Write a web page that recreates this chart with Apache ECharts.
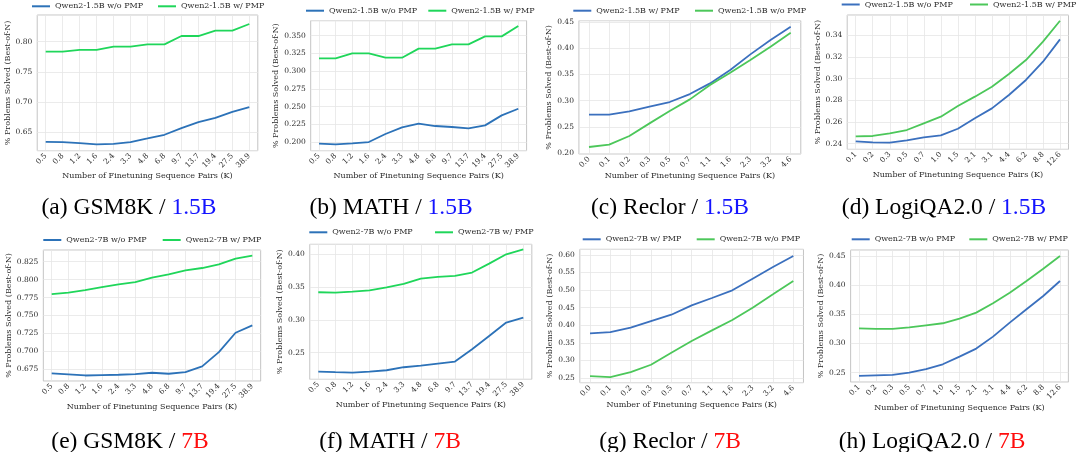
<!DOCTYPE html>
<html>
<head>
<meta charset="utf-8">
<script src="https://cdn.jsdelivr.net/npm/echarts@6/dist/echarts.min.js"></script>
<style>
  html, body { margin: 0; padding: 0; background: #fff; }
  #chart { width: 1080px; height: 452px; }
</style>
</head>
<body>
<div id="chart"></div>
<script>
// x categories: number of finetuning sequence pairs (K)
const pairsGsm = ["0.5", "0.8", "1.2", "1.6", "2.4", "3.3", "4.8", "6.8", "9.7", "13.7", "19.4", "27.5", "38.9"];
const pairsMath = ["0.5", "0.8", "1.2", "1.6", "2.4", "3.3", "4.8", "6.8", "9.7", "13.7", "19.4", "27.5", "38.9"];
const pairsReclor = ["0.0", "0.1", "0.2", "0.3", "0.5", "0.7", "1.1", "1.6", "2.3", "3.2", "4.6"];
const pairsLogi = ["0.1", "0.2", "0.3", "0.5", "0.7", "1.0", "1.5", "2.1", "3.1", "4.4", "6.2", "8.8", "12.6"];

// 1.5B
const gsm15Without = [0.6347, 0.6342, 0.6325, 0.6303, 0.6314, 0.6342, 0.6402, 0.6463, 0.6573, 0.6671, 0.6743, 0.6842, 0.6918];
const gsm15With = [0.7835, 0.7835, 0.7863, 0.7863, 0.7918, 0.7918, 0.7956, 0.7956, 0.8093, 0.8093, 0.8181, 0.8181, 0.8291];
const math15Without = [0.1977, 0.1968, 0.1982, 0.2000, 0.2113, 0.2207, 0.2259, 0.2226, 0.2212, 0.2193, 0.2235, 0.2376, 0.2470];
const math15With = [0.3180, 0.3180, 0.3250, 0.3250, 0.3189, 0.3189, 0.3317, 0.3317, 0.3378, 0.3378, 0.3490, 0.3490, 0.3636];
const reclor15With = [0.2734, 0.2734, 0.2797, 0.2886, 0.2975, 0.3126, 0.3329, 0.3582, 0.3880, 0.4152, 0.4405];
const reclor15Without = [0.2120, 0.2164, 0.2329, 0.2569, 0.2804, 0.3025, 0.3297, 0.3532, 0.3772, 0.4025, 0.4291];
const logi15Without = [0.2422, 0.2412, 0.2409, 0.2430, 0.2458, 0.2477, 0.2538, 0.2634, 0.2726, 0.2849, 0.2988, 0.3157, 0.3363];
const logi15With = [0.2468, 0.2471, 0.2495, 0.2526, 0.2588, 0.2649, 0.2748, 0.2834, 0.2926, 0.3043, 0.3172, 0.3342, 0.3535];

// 7B
const gsm7Without = [0.6692, 0.6678, 0.6664, 0.6669, 0.6674, 0.6683, 0.6702, 0.6688, 0.6711, 0.6790, 0.6990, 0.7260, 0.7362];
const gsm7With = [0.7799, 0.7818, 0.7855, 0.7897, 0.7934, 0.7966, 0.8027, 0.8073, 0.8129, 0.8162, 0.8213, 0.8292, 0.8334];
const math7Without = [0.2212, 0.2202, 0.2197, 0.2212, 0.2232, 0.2278, 0.2303, 0.2334, 0.2364, 0.2552, 0.2755, 0.2959, 0.3035];
const math7With = [0.3421, 0.3416, 0.3431, 0.3451, 0.3497, 0.3548, 0.3629, 0.3655, 0.3670, 0.3721, 0.3858, 0.4000, 0.4076];
const reclor7With = [0.3770, 0.3808, 0.3931, 0.4121, 0.4301, 0.4567, 0.4776, 0.4994, 0.5326, 0.5658, 0.5972];
const reclor7Without = [0.2555, 0.2527, 0.2669, 0.2878, 0.3220, 0.3552, 0.3856, 0.4150, 0.4501, 0.4880, 0.5260];
const logi7Without = [0.2444, 0.2455, 0.2461, 0.2500, 0.2559, 0.2644, 0.2776, 0.2913, 0.3118, 0.3358, 0.3586, 0.3815, 0.4072];
const logi7With = [0.3261, 0.3250, 0.3250, 0.3278, 0.3312, 0.3347, 0.3427, 0.3529, 0.3689, 0.3872, 0.4072, 0.4283, 0.4500];

const xTitle = "Number of Finetuning Sequence Pairs (K)";
const yTitle = "% Problems Solved (Best-of-N)";

const SERIF = "DejaVu Serif";
const BLUE_A = "#2c72b8", GREEN_A = "#1fd65a";
const BLUE_B = "#3b70be", GREEN_B = "#4cc75a";

// one entry per sub-figure; layout numbers are pixel positions in the 1080x452 page
const panels = [
  { key: "a", cats: pairsGsm, lines: [[gsm15Without, "Qwen2-1.5B w/o PMP", BLUE_A], [gsm15With, "Qwen2-1.5B w/ PMP", GREEN_A]],
    x0: 45.7, x1: 249.3, top: 15, bottom: 150.7, yMin: 0.620, yMax: 0.844, step: 0.05, dec: 2,
    yGap: 24, xGap: 17, leg: [32, 158], legY: 7.3, cap: ["(a) GSM8K / ", "1.5B"], capX: 129, capY: 208 },
  { key: "b", cats: pairsMath, lines: [[math15Without, "Qwen2-1.5B w/o PMP", BLUE_A], [math15With, "Qwen2-1.5B w/ PMP", GREEN_A]],
    x0: 319, x1: 518.3, top: 20.7, bottom: 150.7, yMin: 0.1878, yMax: 0.3711, step: 0.025, dec: 3,
    yGap: 27, xGap: 17, leg: [306, 428.3], legY: 11.7, cap: ["(b) MATH / ", "1.5B"], capX: 391, capY: 208 },
  { key: "c", cats: pairsReclor, lines: [[reclor15With, "Qwen2-1.5B w/ PMP", BLUE_B], [reclor15Without, "Qwen2-1.5B w/o PMP", GREEN_B]],
    x0: 589, x1: 790.7, top: 20.7, bottom: 154, yMin: 0.1987, yMax: 0.452, step: 0.05, dec: 2,
    yGap: 21, xGap: 14, leg: [573.3, 695], legY: 11.7, cap: ["(c) Reclor / ", "1.5B"], capX: 670, capY: 208 },
  { key: "d", cats: pairsLogi, lines: [[logi15Without, "Qwen2-1.5B w/o PMP", BLUE_B], [logi15With, "Qwen2-1.5B w/ PMP", GREEN_B]],
    x0: 855.7, x1: 1060, top: 15, bottom: 149.3, yMin: 0.2348, yMax: 0.3588, step: 0.02, dec: 2,
    yGap: 24, xGap: 17, leg: [841.7, 970], legY: 5.5, cap: ["(d) LogiQA2.0 / ", "1.5B"], capX: 944, capY: 208 },
  { key: "e", cats: pairsGsm, lines: [[gsm7Without, "Qwen2-7B w/o PMP", BLUE_A], [gsm7With, "Qwen2-7B w/ PMP", GREEN_A]],
    x0: 51.7, x1: 252.3, top: 250, bottom: 381, yMin: 0.6587, yMax: 0.8413, step: 0.025, dec: 3,
    yGap: 28, xGap: 18, leg: [43.3, 162.7], legY: 241, cap: ["(e) GSM8K / ", "7B"], capX: 130, capY: 442 },
  { key: "f", cats: pairsMath, lines: [[math7Without, "Qwen2-7B w/o PMP", BLUE_A], [math7With, "Qwen2-7B w/ PMP", GREEN_A]],
    x0: 318.3, x1: 523.3, top: 244.3, bottom: 379.3, yMin: 0.2094, yMax: 0.4152, step: 0.05, dec: 2,
    yGap: 26, xGap: 18, leg: [309.3, 435], legY: 233.3, cap: ["(f) MATH / ", "7B"], capX: 390, capY: 442 },
  { key: "g", cats: pairsReclor, lines: [[reclor7With, "Qwen2-7B w/ PMP", BLUE_B], [reclor7Without, "Qwen2-7B w/o PMP", GREEN_B]],
    x0: 590, x1: 793.3, top: 249.3, bottom: 382.7, yMin: 0.2367, yMax: 0.6161, step: 0.05, dec: 2,
    yGap: 23, xGap: 15, leg: [582.7, 696.7], legY: 240.3, cap: ["(g) Reclor / ", "7B"], capX: 670, capY: 442 },
  { key: "h", cats: pairsLogi, lines: [[logi7Without, "Qwen2-7B w/o PMP", BLUE_B], [logi7With, "Qwen2-7B w/ PMP", GREEN_B]],
    x0: 859, x1: 1060, top: 250, bottom: 382, yMin: 0.234, yMax: 0.4603, step: 0.05, dec: 2,
    yGap: 22, xGap: 18, leg: [851.7, 969.3], legY: 240.3, cap: ["(h) LogiQA2.0 / ", "7B"], capX: 932, capY: 442 }
];

const gridLine = { color: "#e6e6e6", width: 0.8 };
const tickFont = { fontFamily: SERIF, fontSize: 7.5, color: "#2b2b2b" };
const nameFont = { fontFamily: SERIF, fontSize: 8, color: "#2b2b2b" };

const onStep = (v, step) => Math.abs(v / step - Math.round(v / step)) < 1e-6;

const grid = [], xAxis = [], yAxis = [], series = [], legend = [], graphic = [];

panels.forEach((p, i) => {
  const n = p.cats.length;
  const d = (p.x1 - p.x0) / (n - 1);
  grid.push({
    left: p.x0 - d / 2, top: p.top, width: d * n, height: p.bottom - p.top,
    show: true, borderColor: "#c4c4c4", borderWidth: 1, containLabel: false
  });
  xAxis.push({
    gridIndex: i, type: "category", data: p.cats, boundaryGap: true,
    axisLine: { show: false }, axisTick: { show: false, alignWithLabel: true },
    axisLabel: Object.assign({ rotate: 45, interval: 0, margin: 4 }, tickFont),
    splitLine: { show: true, interval: 0, alignWithLabel: true, lineStyle: gridLine },
    name: xTitle, nameLocation: "middle", nameGap: p.xGap, nameTextStyle: nameFont
  });
  yAxis.push({
    gridIndex: i, type: "value", min: p.yMin, max: p.yMax,
    minInterval: p.step, maxInterval: p.step,
    axisLine: { show: false }, axisTick: { show: false },
    axisLabel: Object.assign({ margin: 5, formatter: v => onStep(v, p.step) ? v.toFixed(p.dec) : "" }, tickFont),
    splitLine: { show: true, lineStyle: gridLine },
    name: yTitle, nameLocation: "middle", nameGap: p.yGap, nameTextStyle: nameFont
  });
  p.lines.forEach(([vals, name, color], j) => {
    const id = p.key + "|" + name;
    series.push({
      type: "line", name: id, xAxisIndex: i, yAxisIndex: i, data: vals,
      symbol: "none", color: color, lineStyle: { color: color, width: 1.8 },
      emphasis: { disabled: true }, animation: false
    });
    legend.push({
      data: [id], left: p.leg[j], top: p.legY - 5, padding: 0,
      icon: "rect", itemWidth: 18, itemHeight: 2, itemGap: 5,
      formatter: s => s.split("|")[1],
      textStyle: { fontFamily: SERIF, fontSize: 8, color: "#2b2b2b" }
    });
  });
  graphic.push({
    type: "text", x: p.capX, y: p.capY,
    style: {
      text: "{k|" + p.cap[0] + "}{s|" + p.cap[1] + "}",
      align: "center", verticalAlign: "middle",
      rich: {
        k: { fontFamily: "Liberation Serif", fontSize: 23.5, fill: "#000" },
        s: { fontFamily: "Liberation Serif", fontSize: 23.5, fill: i < 4 ? "#1414ff" : "#ff0d0d" }
      }
    }
  });
});

const chart = echarts.init(document.getElementById("chart"));
chart.setOption({
  backgroundColor: "#fff",
  animation: false,
  grid, xAxis, yAxis, series, legend, graphic
});
</script>
</body>
</html>
